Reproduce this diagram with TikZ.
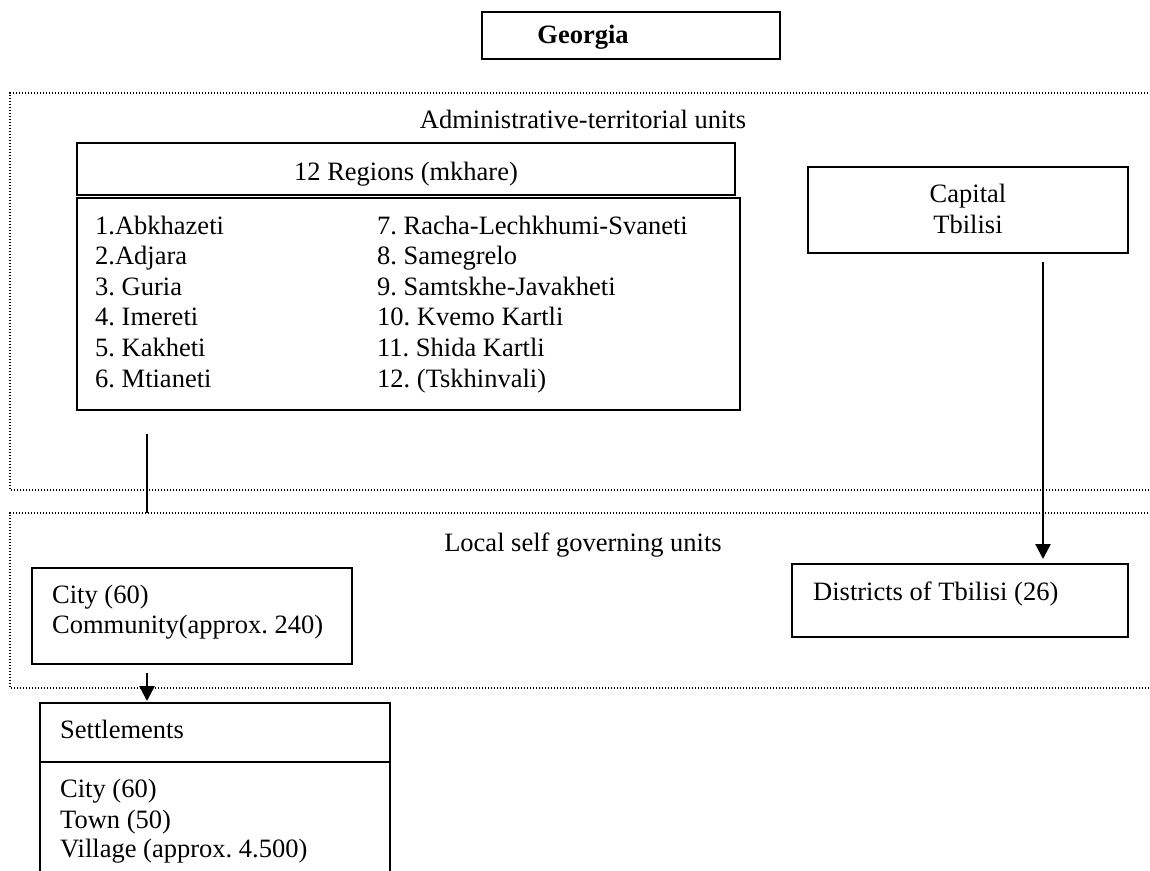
\documentclass[tikz,border=0pt]{standalone}
\usepackage{fontspec}
\setmainfont{Liberation Serif}
\usetikzlibrary{arrows.meta}
\frenchspacing

\tikzset{
  box/.style={draw, line width=2pt, outer sep=0pt, inner sep=0pt},
  txt/.style={anchor=base west, inner sep=0pt},
  ctxt/.style={anchor=base, inner sep=0pt},
  frame/.style={line width=1.4pt, dash pattern=on 1.2pt off 1.8pt},
  conn/.style={line width=2.5pt},
  arr/.style={conn, -{Triangle[width=15pt,length=15pt]}}
}

\begin{document}
\begin{tikzpicture}[x=1pt,y=-1pt,
    every node/.style={font=\fontsize{26.5}{30.6}\selectfont}]
    \useasboundingbox (0,0) rectangle (1150,870);
    \clip (0,0) rectangle (1150,870);

    % top
    \node[box, minimum width=298pt, minimum height=47pt] (geo) at (631,35.5) {};
    \node[ctxt, font=\fontsize{26.5}{30.6}\selectfont\bfseries] (geot) at (583,43) {Georgia};

    % the two dotted frames
    \coordinate (ats) at (10,93);
    \coordinate (lsg) at (10,513);
    \draw[frame] (1160,93) -- (ats) -- (10,490) -- (1160,490);
    \draw[frame] (1160,513) -- (lsg) -- (10,688) -- (1160,688);

    \node[ctxt] (admin) at (583,128) {Administrative-territorial units};
    \node[ctxt] (local) at (583,551) {Local self governing units};

    % regions
    \node[box, minimum width=658pt, minimum height=52pt] (reghead) at (406,169) {};
    \node[ctxt] (regt) at (406,180) {12 Regions (mkhare)};
    \node[box, minimum width=663pt, minimum height=212pt] (reglist) at (408.5,304) {};
    \foreach \n/\a/\b in {0/{1.Abkhazeti}/{7. Racha-Lechkhumi-Svaneti},
        1/{2.Adjara}/{8. Samegrelo},
        2/{3. Guria}/{9. Samtskhe-Javakheti},
        3/{4. Imereti}/{10. Kvemo Kartli},
        4/{5. Kakheti}/{11. Shida Kartli},
        5/{6. Mtianeti}/{12. (Tskhinvali)}}
    {
        \node[txt] (ra\n) at (95,234+30.6*\n) {\a};
        \node[txt] (rb\n) at (377,234+30.6*\n) {\b};
    }

    % capital
    \node[box, minimum width=320pt, minimum height=86pt] (cap) at (968,210) {};
    \node[ctxt] (capt) at (968,202) {Capital};
    \node[ctxt] (tbt) at (968,233) {Tbilisi};
    \node[box, minimum width=336pt, minimum height=73pt] (dist) at (960,600.5) {};
    \node[txt] (distt) at (813,600) {Districts of Tbilisi (26)};

    % local units
    \node[box, minimum width=320pt, minimum height=96pt] (city) at (192,616) {};
    \node[txt] (cityt) at (52,603) {City (60)};
    \node[txt] (commt) at (52,633) {Community(approx. 240)};

    % settlements
    \node[box, minimum width=350pt, minimum height=59pt] (setthead) at (215,732.5) {};
    \node[txt] (settt) at (60,738) {Settlements};
    \node[box, minimum width=350pt, minimum height=168pt] (settbody) at (215,846) {};
    \node[txt] (s1t) at (60,797) {City (60)};
    \node[txt] (s2t) at (60,828) {Town (50)};
    \node[txt] (s3t) at (60,857) {Village (approx. 4.500)};

    % connectors
    \coordinate (c1) at (1043,0);
    \coordinate (l1) at (147,0);
    \draw[arr, shorten <=9pt, shorten >=5pt] (cap.south -| c1) -- (dist.north -| c1);
    \draw[conn, shorten <=24pt] (reglist.south -| l1) -- (lsg -| l1);
    \draw[arr, shorten <=9pt, shorten >=2pt] (city.south -| l1) -- (setthead.north -| l1);
\end{tikzpicture}
\end{document}
